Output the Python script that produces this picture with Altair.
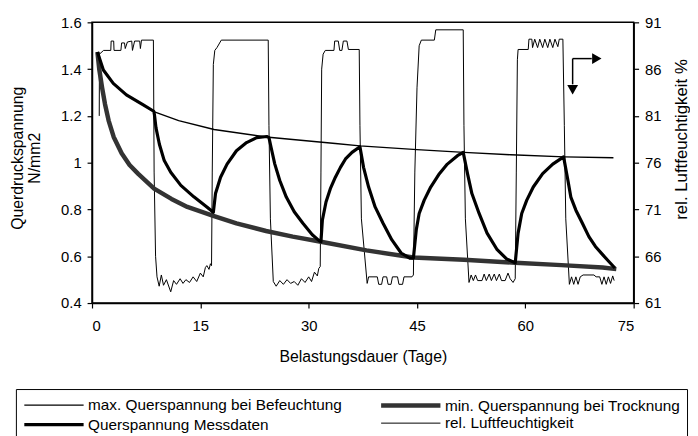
import altair as alt
import pandas as pd

SERIES = ["max. Querspannung bei Befeuchtung", "min. Querspannung bei Trocknung",
          "Querspannung Messdaten", "rel. Luftfeuchtigkeit"]

max_day = [0.75, 1.57, 2.94, 4.76, 7.04, 8.55, 12.0, 16.9, 24.1, 33.7, 37.1, 45.0, 51.5, 58.0, 65.4, 72.2]
max_val = [1.473, 1.396, 1.339, 1.290, 1.248, 1.218, 1.180, 1.142, 1.110, 1.082, 1.072, 1.056, 1.044, 1.034, 1.025, 1.021]

min_day = [0.75, 1.0, 1.4, 1.8, 2.3, 3.0, 4.1, 5.2, 6.4, 8.6, 11.0, 13.2, 16.9, 20.0, 24.1, 27.8, 31.7,
           38.0, 44.5, 51.5, 58.6, 65.0, 70.7, 72.6]
min_val = [1.473, 1.40, 1.32, 1.25, 1.18, 1.11, 1.04, 0.99, 0.952, 0.889, 0.845, 0.811, 0.772, 0.741, 0.708,
           0.684, 0.662, 0.625, 0.595, 0.585, 0.572, 0.562, 0.552, 0.545]

mess_day = [0.75, 1.57, 2.94, 4.76, 7.04, 8.55,
            8.64, 8.86, 9.33, 10.0, 10.9, 12.3, 14.1, 15.9, 16.8,
            17.1, 17.8, 18.7, 20.0, 21.4, 22.8, 24.2,
            24.5, 24.8, 25.3, 26.0, 26.9, 28.0, 29.2, 30.5, 31.4, 31.7,
            31.9, 32.4, 33.0, 33.7, 34.4, 35.1, 36.0, 37.1,
            37.6, 38.3, 39.2, 40.3, 41.5, 42.8, 44.0, 44.5,
            44.9, 45.3, 46.0, 46.9, 48.1, 49.2, 50.6, 51.4,
            52.0, 52.6, 53.6, 54.7, 56.1, 57.4, 58.6,
            59.0, 59.5, 60.2, 61.1, 62.4, 63.8, 65.3,
            65.9, 66.3, 67.0, 67.9, 68.8, 69.7, 70.7, 71.5, 72.4]
mess_val = [1.473, 1.396, 1.339, 1.290, 1.248, 1.220,
            1.206, 1.149, 1.079, 1.009, 0.959, 0.903, 0.854, 0.811, 0.788,
            0.868, 0.938, 0.994, 1.051, 1.086, 1.107, 1.112,
            1.107, 1.065, 0.995, 0.924, 0.853, 0.790, 0.741, 0.692, 0.668, 0.662,
            0.755, 0.832, 0.889, 0.938, 0.980, 1.016, 1.044, 1.068,
            0.980, 0.896, 0.811, 0.741, 0.671, 0.614, 0.592, 0.592,
            0.713, 0.783, 0.840, 0.896, 0.953, 0.994, 1.030, 1.044,
            0.952, 0.868, 0.783, 0.699, 0.628, 0.589, 0.572,
            0.699, 0.783, 0.840, 0.896, 0.953, 0.994, 1.025,
            0.924, 0.853, 0.797, 0.741, 0.684, 0.642, 0.607, 0.580, 0.550]

hum_day = [1.00, 1.03, 1.6, 2.6, 2.65, 3.0, 3.05, 4.0, 4.1, 4.5, 4.6, 4.9, 5.5, 5.6, 5.9, 6.6, 6.7, 6.85, 8.5, 8.6, 8.8,
           9.0, 9.3, 9.6, 9.9, 10.3, 10.9, 11.3, 11.7, 12.2, 12.6, 13.0, 13.5, 14.0, 14.5, 15.0, 15.4, 15.7, 15.9,
           16.2, 16.4, 16.55, 16.65, 16.8, 17.0, 17.3, 17.9, 24.4, 24.5, 24.7,
           25.1, 25.5, 26.0, 26.5, 27.0, 27.5, 28.0, 28.5, 29.0, 29.5, 30.0, 30.4, 30.8, 31.2, 31.4, 31.6, 31.7, 31.8,
           32.0, 32.3, 33.5, 33.6, 34.1, 34.3, 34.6, 34.8, 35.3, 35.5, 37.0, 37.1, 37.3,
           38.1, 38.3, 39.5, 39.7, 40.1, 40.3, 40.8, 41.0, 41.4, 41.6, 42.3, 42.5, 43.0, 43.2, 44.3, 44.5, 44.7,
           45.0, 45.3, 45.6, 47.4, 47.6, 51.4, 51.5, 51.7,
           52.2, 52.5, 52.8, 53.1, 53.4, 54.0, 54.3, 54.6, 55.0, 55.3, 55.7, 56.0, 56.4, 56.7, 57.2, 57.6, 57.9,
           58.3, 58.6, 58.75, 58.9, 59.0, 60.4, 60.5, 60.9, 61.0, 61.3, 61.7, 62.0, 62.4, 62.7, 63.1, 63.4, 63.8,
           64.1, 64.5, 64.7, 65.2, 65.4, 65.6,
           66.1, 66.4, 66.7, 67.0, 67.3, 67.6, 68.0, 69.5, 69.8, 70.3, 70.6, 70.9, 71.2, 71.5, 71.8, 72.1, 72.3]
hum_val = [81.0, 87.6, 88.0, 88.0, 89.0, 89.0, 88.0, 88.0, 88.8, 88.8, 88.2, 88.9, 89.0, 88.0, 89.0, 89.0, 88.2, 89.1, 89.1, 75.0, 66.0,
           63.8, 62.8, 64.0, 62.9, 63.5, 62.2, 63.4, 63.0, 63.6, 63.1, 63.5, 63.2, 63.8, 63.3, 64.2, 63.8, 64.8, 65.0,
           64.6, 65.2, 65.0, 75.0, 86.5, 88.0, 88.3, 89.1, 89.1, 80.0, 70.0,
           63.3, 62.8, 63.4, 63.0, 63.5, 63.1, 63.3, 62.9, 63.6, 63.2, 63.8, 63.3, 64.3, 63.9, 64.7, 64.9, 75.0, 86.0,
           87.6, 88.0, 88.0, 89.0, 89.0, 88.0, 88.0, 89.0, 89.0, 88.1, 88.1, 80.0, 70.0,
           63.1, 63.8, 63.8, 63.0, 63.0, 63.8, 63.8, 63.0, 63.0, 63.8, 63.8, 63.0, 63.0, 63.8, 63.8, 64.0, 75.0,
           84.0, 88.5, 89.1, 89.1, 90.2, 90.2, 80.0, 70.0,
           63.2, 64.0, 63.4, 64.0, 63.4, 63.4, 64.1, 63.4, 64.1, 63.4, 64.1, 63.4, 64.1, 63.4, 63.4, 64.2, 63.6,
           63.2, 63.6, 75.0, 87.0, 88.1, 88.1, 89.2, 89.2, 88.3, 89.2, 88.3, 89.2, 88.3, 89.2, 88.3, 89.2, 88.3,
           89.2, 88.4, 89.2, 89.2, 80.0, 70.0,
           63.0, 63.8, 63.0, 63.8, 63.0, 63.8, 64.0, 64.0, 63.8, 63.8, 63.0, 63.8, 63.0, 63.8, 63.1, 63.9, 63.4]

# annotation arrows (in day / stress units)
arrow_rule_x = [66.55, 66.55]
arrow_rule_x2 = [66.55, 69.2]
arrow_rule_y = [1.445, 1.445]
arrow_rule_y2 = [1.335, 1.445]
arrow_head_x = [66.55, 69.9]
arrow_head_y = [1.312, 1.445]
arrow_head_shape = ["triangle-down", "triangle-right"]

FONT = "Liberation Sans"


def frame(days, vals, name):
    return pd.DataFrame({"day": days, "val": vals, "series": name, "i": list(range(len(days)))})


df_max = frame(max_day, max_val, SERIES[0])
df_min = frame(min_day, min_val, SERIES[1])
df_mess = frame(mess_day, mess_val, SERIES[2])
df_hum = frame(hum_day, hum_val, SERIES[3])

color_scale = alt.Scale(type="ordinal", domain=SERIES, range=["black", "#333333", "black", "black"])
width_scale = alt.Scale(type="ordinal", domain=SERIES, range=[1.4, 4.5, 3.2, 1.0])

legend = alt.Legend(title=None, orient="none", legendX=-77, legendY=371, columns=2, direction="horizontal",
                    symbolType="M-1,0H6.5", symbolSize=256, labelFont=FONT, labelFontSize=15.5,
                    labelColor="black", labelLimit=400, labelOffset=46, columnPadding=30,
                    rowPadding=0, padding=6, strokeColor="black", symbolStrokeColor="black",
                    symbolFillColor="transparent")

x_enc = alt.X("day:Q", scale=alt.Scale(domain=[0, 75], nice=False, zero=False),
              axis=alt.Axis(values=[0, 15, 30, 45, 60, 75], title="Belastungsdauer (Tage)",
                            labelPadding=11, titleY=54, titleBaseline="middle"))

y_stress = alt.Y("val:Q", scale=alt.Scale(domain=[0.4, 1.6], nice=False, zero=False),
                 axis=alt.Axis(orient="left", values=[0.4, 0.6, 0.8, 1.0, 1.2, 1.4, 1.6], format="~g",
                               title=["Querdruckspannung", "N/mm2"], titleAngle=270, titleX=-83,
                               titleY=137, titleBaseline="top", titleAlign="center",
                               titleLineHeight=17, labelPadding=6))

y_hum = alt.Y("val:Q", scale=alt.Scale(domain=[61, 91], nice=False, zero=False),
              axis=alt.Axis(orient="right", values=[61, 66, 71, 76, 81, 86, 91],
                            title="rel. Luftfeuchtigkeit %", titleAngle=270, titleX=48, titleY=118,
                            titleBaseline="middle", titleAlign="center", titleFontSize=17,
                            labelPadding=6))


def line_layer(df, y):
    return alt.Chart(df).mark_line(strokeJoin="round", strokeCap="butt").encode(
        x=x_enc, y=y,
        color=alt.Color("series:N", scale=color_scale, legend=legend),
        strokeWidth=alt.StrokeWidth("series:N", scale=width_scale, legend=legend),
        order="i:Q",
    )


hum_layer = line_layer(df_hum, y_hum)

rules_df = pd.DataFrame({"x": arrow_rule_x, "x2": arrow_rule_x2, "y": arrow_rule_y, "y2": arrow_rule_y2})
heads_df = pd.DataFrame({"x": arrow_head_x, "y": arrow_head_y, "shape": arrow_head_shape})

rules = alt.Chart(rules_df).mark_rule(color="black", strokeWidth=1.5).encode(
    x="x:Q", x2="x2:Q", y="y:Q", y2="y2:Q")
heads = alt.Chart(heads_df).mark_point(filled=True, color="black", opacity=1, size=120).encode(
    x="x:Q", y="y:Q", shape=alt.Shape("shape:N", scale=None, legend=None))

stress = alt.layer(line_layer(df_min, y_stress), line_layer(df_max, y_stress),
                   line_layer(df_mess, y_stress), rules, heads)

chart = alt.layer(hum_layer, stress).resolve_scale(y="independent").properties(
    width=548, height=284,
    padding={"left": 85, "top": 12, "right": 57, "bottom": 132},
    autosize=alt.AutoSizeParams(type="none"),
    background="white",
).configure_view(stroke="black", strokeWidth=1.5).configure_axis(
    labelFont=FONT, labelFontSize=15, labelColor="black", titleFont=FONT, titleFontSize=16,
    titleFontWeight="normal", titleColor="black", domainColor="black", domainWidth=1.5,
    tickColor="black", tickWidth=1.2, tickSize=5, grid=False,
)

chart.save("out.html", embed_options={"renderer": "svg", "actions": False})
